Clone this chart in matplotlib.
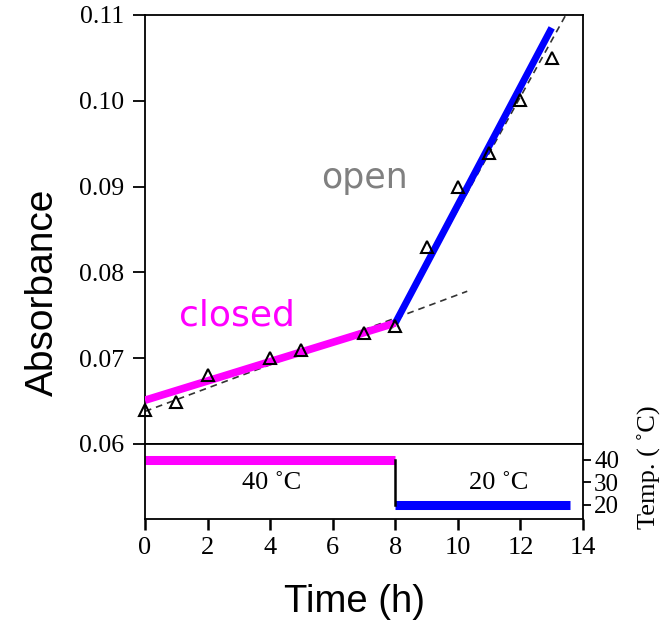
import matplotlib
matplotlib.use('Agg')
import matplotlib.pyplot as plt

# measured absorbance (triangles)
time_h = [0, 1, 2, 4, 5, 7, 8, 9, 10, 11, 12, 13]
absorbance = [0.0640, 0.0649, 0.0680, 0.0700, 0.0710, 0.0729, 0.0737,
              0.0830, 0.0900, 0.0939, 0.1001, 0.1050]

# fitted segments
closed_x = [0, 8]
closed_y = [0.0651, 0.0741]
open_x = [8, 13.0]
open_y = [0.0741, 0.1085]
dash1_x = [0, 10.3]
dash1_y = [0.0638, 0.0778]
dash2_x = [7.9, 13.45]
dash2_y = [0.0735, 0.1100]

# temperature program
temp_hot_x = [0, 8]
temp_hot_y = [40, 40]
temp_cold_x = [8, 13.6]
temp_cold_y = [20, 20]
step_x = [8, 8]
step_y = [40, 20]

serif = 'Liberation Serif'
sans = 'Liberation Sans'

fig = plt.figure(figsize=(6.64, 6.22), dpi=100)
ax = fig.add_axes([0.2184, 0.2862, 0.6596, 0.6897])
ax2 = fig.add_axes([0.2184, 0.1656, 0.6596, 0.1206], sharex=ax)

# main panel
ax.plot(dash1_x, dash1_y, ls=(0, (4, 3)), color='#333333', lw=1.2, zorder=2)
ax.plot(dash2_x, dash2_y, ls=(0, (4, 3)), color='#333333', lw=1.2, zorder=2)
ax.plot(closed_x, closed_y, color='#ff00ff', lw=5.5, solid_capstyle='butt', zorder=3)
ax.plot(open_x, open_y, color='#0000ff', lw=5, solid_capstyle='butt', zorder=3)
ax.plot(time_h, absorbance, ls='none', marker='^', ms=9, mfc='none',
        mec='black', mew=1.5, zorder=4, clip_on=False)

ax.text(7.0, 0.0910, 'open', color='#808080', fontsize=25,
        family='DejaVu Sans', ha='center', va='center')
ax.text(2.95, 0.0750, 'closed', color='#ff00ff', fontsize=26,
        family='DejaVu Sans', ha='center', va='center')

ax.set_xlim(0, 14)
ax.set_ylim(0.06, 0.11)
ax.set_yticks([0.06, 0.07, 0.08, 0.09, 0.10, 0.11])
ax.set_yticklabels(['0.06', '0.07', '0.08', '0.09', '0.10', '0.11'],
                   family=serif, fontsize=18.5)
ax.tick_params(axis='y', direction='out', length=9, width=1.3, pad=6)
ax.tick_params(axis='x', bottom=False, labelbottom=False)
ax.set_ylabel('Absorbance', family=sans, fontsize=28)
ax.yaxis.set_label_coords(-0.191, 0.354)
for s in ax.spines.values():
    s.set_linewidth(1.3)

# temperature panel
ax2.plot(temp_hot_x, temp_hot_y, color='#ff00ff', lw=6.5, solid_capstyle='butt')
ax2.plot(temp_cold_x, temp_cold_y, color='#0000ff', lw=6.5, solid_capstyle='butt')
ax2.plot(step_x, step_y, color='black', lw=1.8)
ax2.text(4.05, 29.5, '40 ˚C', family=serif, fontsize=19, ha='center', va='center')
ax2.text(11.3, 29.5, '20 ˚C', family=serif, fontsize=19, ha='center', va='center')

ax2.set_ylim(13.7, 47)
ax2.yaxis.tick_right()
ax2.yaxis.set_label_position('right')
ax2.set_yticks([20, 30, 40])
ax2.set_yticklabels(['20', '30', '40'], family=serif, fontsize=18)
ax2.tick_params(axis='y', direction='out', length=6, width=1.3, pad=2)
ax2.set_ylabel('Temp. ( ˚C)', family=serif, fontsize=19, rotation=90)
ax2.yaxis.set_label_coords(1.125, 0.69)

ax2.set_xticks([0, 2, 4, 6, 8, 10, 12, 14])
ax2.set_xticklabels(['0', '2', '4', '6', '8', '10', '12', '14'], family=serif, fontsize=19)
ax2.tick_params(axis='x', direction='out', length=8, width=1.8, pad=5)
ax2.set_xlabel('Time (h)', family=sans, fontsize=27.5)
ax2.xaxis.set_label_coords(0.479, -0.86)
for s in ax2.spines.values():
    s.set_linewidth(1.3)

fig.savefig('out.png', dpi=100)
